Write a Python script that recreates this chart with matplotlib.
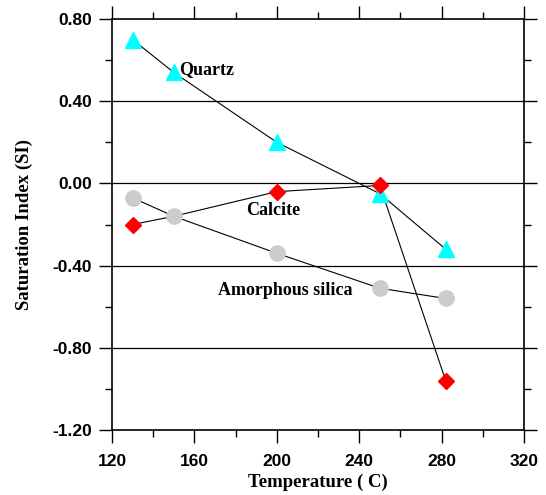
import matplotlib
matplotlib.use("Agg")
import matplotlib.pyplot as plt
from matplotlib.ticker import MultipleLocator, FormatStrFormatter

# data
quartz_t = [130, 150, 200, 250, 282]
quartz_si = [0.70, 0.54, 0.20, -0.05, -0.32]

calcite_t = [130, 150, 200, 250, 282]
calcite_si = [-0.20, -0.16, -0.04, -0.01, -0.96]

silica_t = [130, 150, 200, 250, 282]
silica_si = [-0.07, -0.16, -0.34, -0.51, -0.56]

x_ticks = [120, 160, 200, 240, 280, 320]
y_ticks = [0.80, 0.40, 0.00, -0.40, -0.80, -1.20]

serif = ["Liberation Serif", "DejaVu Serif"]
sans = ["Liberation Sans", "DejaVu Sans"]

fig = plt.figure(figsize=(5.46, 4.95), dpi=100)
ax = fig.add_axes([0.2051, 0.1313, 0.7546, 0.8303])

# horizontal grid at the major y ticks
for yv in y_ticks[1:-1]:
    ax.axhline(yv, color="black", lw=0.9, zorder=1)

ax.plot(silica_t, silica_si, color="black", lw=0.8, marker="o", ms=11,
        mfc="#cccccc", mec="#cccccc", zorder=3)
ax.plot(quartz_t, quartz_si, color="black", lw=0.8, marker="^", ms=11,
        mfc="cyan", mec="cyan", zorder=3)
ax.plot(calcite_t[:1] + calcite_t[2:], calcite_si[:1] + calcite_si[2:],
        color="none", marker="D", ms=8, mfc="red", mec="red", zorder=4)
ax.plot(calcite_t, calcite_si, color="black", lw=0.8, zorder=2)

ax.text(152.5, 0.552, "Quartz", fontsize=13, fontweight="bold", family=serif,
        va="center", ha="left")
ax.text(185, -0.13, "Calcite", fontsize=13, fontweight="bold", family=serif,
        va="center", ha="left")
ax.text(171.5, -0.52, "Amorphous silica", fontsize=13, fontweight="bold",
        family=serif, va="center", ha="left")

ax.set_xlim(120, 320)
ax.set_ylim(-1.20, 0.80)
ax.xaxis.set_major_locator(MultipleLocator(40))
ax.xaxis.set_minor_locator(MultipleLocator(20))
ax.yaxis.set_major_locator(MultipleLocator(0.4))
ax.yaxis.set_minor_locator(MultipleLocator(0.2))
ax.yaxis.set_major_formatter(FormatStrFormatter("%.2f"))

ax.tick_params(which="both", direction="out", top=True, right=True, width=1.0)
ax.tick_params(which="major", length=9.5, pad=5)
ax.tick_params(axis="x", which="major", pad=8)
ax.tick_params(which="minor", length=5)
for lab in ax.get_xticklabels() + ax.get_yticklabels():
    lab.set_family(sans)
    lab.set_fontweight("bold")
    lab.set_fontsize(12.5)

for sp in ax.spines.values():
    sp.set_linewidth(1.2)

ax.set_xlabel("Temperature ( C)", fontsize=13.5, fontweight="bold",
              family=serif, labelpad=3)
ax.set_ylabel("Saturation Index (SI)", fontsize=13.5, fontweight="bold",
              family=serif, labelpad=14)

fig.savefig("out.png", dpi=100)
